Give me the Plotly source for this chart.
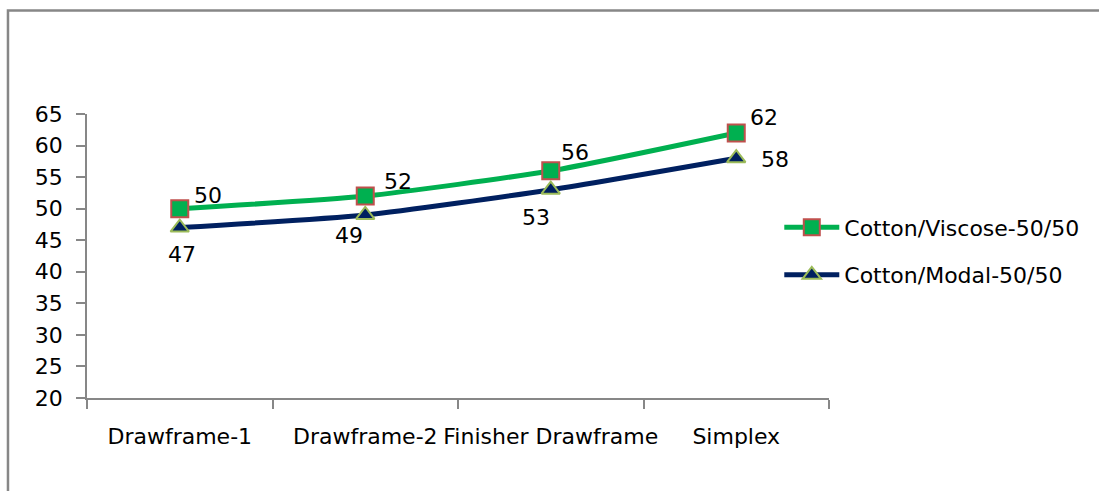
import plotly.graph_objects as go

stages = ["Drawframe-1", "Drawframe-2", "Finisher Drawframe", "Simplex"]
viscose = [50, 52, 56, 62]
modal = [47, 49, 53, 58]
viscose_name = "Cotton/Viscose-50/50"
modal_name = "Cotton/Modal-50/50"
y_ticks = list(range(20, 66, 5))

# pixel offsets for the value labels of each series
viscose_label_dx = [28, 33, 24, 28]
viscose_label_dy = [13, 15, 18, 15]
modal_label_dx = [2, -16, -15, 39]
modal_label_dy = [-27, -21, -28, -1]

FONT = "DejaVu Sans"
FS = 22
GREEN = "#00B050"
NAVY = "#002060"
FRAME = "#878787"

fig = go.Figure()
fig.add_trace(go.Scatter(
    x=stages, y=viscose, name=viscose_name, legendgroup="v",
    mode="lines+markers",
    line=dict(color=GREEN, width=5, shape="spline", smoothing=0.6),
    marker=dict(symbol="square", size=17, color=GREEN,
                line=dict(color="#C0504D", width=2)),
    cliponaxis=False,
))
fig.add_trace(go.Scatter(
    x=stages, y=modal, name=modal_name, legendgroup="m",
    mode="lines+markers",
    line=dict(color=NAVY, width=5, shape="spline", smoothing=0.6),
    marker=dict(symbol="triangle-up", size=16, color=NAVY,
                line=dict(color="#9BBB59", width=2)),
    cliponaxis=False,
))

# value labels
for xs, ys, dxs, dys in ((stages, viscose, viscose_label_dx, viscose_label_dy),
                         (stages, modal, modal_label_dx, modal_label_dy)):
    for x, y, dx, dy in zip(xs, ys, dxs, dys):
        fig.add_annotation(x=x, y=y, text=str(y), showarrow=False,
                           xanchor="center", yanchor="middle",
                           xshift=dx, yshift=dy,
                           font=dict(family=FONT, size=FS, color="black"))

# outer chart frame
fig.add_shape(type="rect", xref="paper", yref="paper",
              x0=-0.1065, x1=2, y0=-1, y1=1.364,
              line=dict(color=FRAME, width=2.5), layer="below")

fig.update_layout(
    width=1099, height=491,
    margin=dict(l=87, r=270, t=114, b=93),
    paper_bgcolor="white", plot_bgcolor="white",
    font=dict(family=FONT, size=FS, color="black"),
    showlegend=True,
    legend=dict(x=0.933, y=0.516, xanchor="left", yanchor="middle",
                font=dict(family=FONT, size=FS, color="black"),
                itemwidth=55, traceorder="grouped", tracegroupgap=16,
                bgcolor="rgba(0,0,0,0)"),
    xaxis=dict(type="category", range=[-0.5, 3.5], tickson="boundaries",
               tickangle=0, automargin=False,
               showline=True, linecolor=FRAME, linewidth=1.5,
               ticks="outside", ticklen=9, tickcolor=FRAME, tickwidth=1.5,
               showgrid=False, zeroline=False, ticklabelstandoff=18,
               tickfont=dict(family=FONT, size=FS, color="black")),
    yaxis=dict(range=[20, 65], tickvals=y_ticks, automargin=False,
               showline=True, linecolor=FRAME, linewidth=1.5,
               ticks="outside", ticklen=9, tickcolor=FRAME, tickwidth=1.5,
               showgrid=False, zeroline=False, ticklabelstandoff=9,
               tickfont=dict(family=FONT, size=FS, color="black")),
)

fig.write_html("out.html")
